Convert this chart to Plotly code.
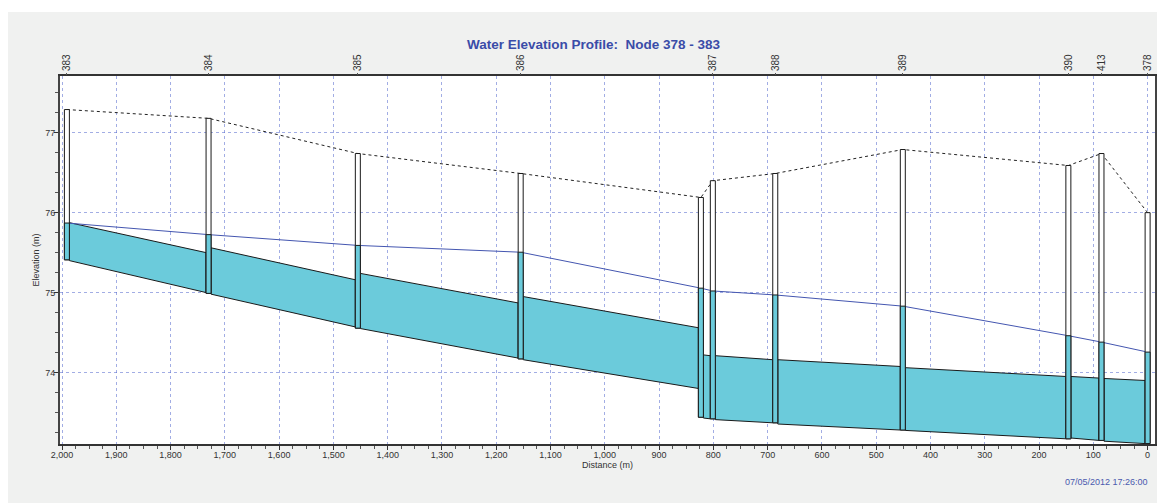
import plotly.graph_objects as go

# Nodes along the profile (upstream 383 -> downstream 378), distances in m
node_labels = ["383", "384", "385", "386", "", "387", "388", "389", "390", "413", "378"]
node_dist = [1991, 1730, 1455, 1155, 823, 801, 686, 451, 146, 85, 0]
node_invert = [75.41, 74.99, 74.555, 74.17, 73.44, 73.42, 73.37, 73.28, 73.17, 73.15, 73.11]
node_rim = [77.29, 77.18, 76.74, 76.49, 76.19, 76.40, 76.49, 76.79, 76.59, 76.74, 76.00]
node_water = [75.87, 75.725, 75.59, 75.505, 75.055, 75.02, 74.97, 74.83, 74.46, 74.38, 74.255]

# Links between consecutive nodes: invert and crown at upstream / downstream end
link_inv_up = [75.40, 74.98, 74.55, 74.16, 73.43, 73.41, 73.355, 73.275, 73.18, 73.14]
link_inv_dn = [75.00, 74.57, 74.18, 73.80, 73.42, 73.37, 73.28, 73.17, 73.15, 73.11]
link_top_up = [75.875, 75.56, 75.24, 74.95, 74.22, 74.21, 74.16, 74.06, 73.95, 73.925]
link_top_dn = [75.50, 75.16, 74.87, 74.56, 74.21, 74.16, 74.075, 73.95, 73.93, 73.90]

CYAN = "#6BCBDB"
HW = 4.6  # half width of node bars (m)
FONT = "Arial, Liberation Sans, sans-serif"
GRID = "rgba(85,105,205,0.55)"

fig = go.Figure()

# conduits
for i in range(len(link_inv_up)):
    xa = node_dist[i] - HW
    xb = node_dist[i + 1] + HW
    fig.add_trace(go.Scatter(
        x=[xa, xb, xb, xa, xa],
        y=[link_inv_up[i], link_inv_dn[i], link_top_dn[i], link_top_up[i], link_inv_up[i]],
        mode="lines", fill="toself", fillcolor=CYAN,
        line=dict(color="#1a1a1a", width=1),
        hoverinfo="skip", showlegend=False))

# hydraulic grade line
fig.add_trace(go.Scatter(x=node_dist, y=node_water, mode="lines",
                         line=dict(color="#4456B0", width=1),
                         hoverinfo="skip", showlegend=False))

# ground surface
fig.add_trace(go.Scatter(x=node_dist, y=node_rim, mode="lines",
                         line=dict(color="#222", width=1, dash="dot"),
                         hoverinfo="skip", showlegend=False))

# manholes
for d, inv, rim, wl in zip(node_dist, node_invert, node_rim, node_water):
    xs = [d - HW, d + HW, d + HW, d - HW, d - HW]
    fig.add_trace(go.Scatter(x=xs, y=[inv, inv, rim, rim, inv], mode="lines",
                             fill="toself", fillcolor="white",
                             line=dict(color="#1a1a1a", width=1),
                             hoverinfo="skip", showlegend=False))
    fig.add_trace(go.Scatter(x=xs, y=[inv, inv, wl, wl, inv], mode="lines",
                             fill="toself", fillcolor=CYAN,
                             line=dict(color="#1a1a1a", width=1),
                             hoverinfo="skip", showlegend=False))

top_vals = [d for d, lab in zip(node_dist, node_labels) if lab]
top_text = [lab for lab in node_labels if lab]
x_range = [2003.7, -13.6]

fig.update_layout(
    width=1157, height=495,
    margin=dict(l=52, r=8, t=68, b=59),
    paper_bgcolor="#F0F1F0",
    plot_bgcolor="white",
    font=dict(family=FONT, size=9, color="#333"),
    title=dict(text="<b>Water Elevation Profile:  Node 378 - 383</b>",
               x=0.506, xanchor="center", y=1 - 36 / 495, yanchor="middle",
               font=dict(family=FONT, size=13.5, color="#3A4CA8")),
    xaxis=dict(range=x_range, dtick=100, tick0=0, tickformat=",d",
               showgrid=True, gridcolor=GRID, griddash="dot", gridwidth=1,
               ticks="outside", ticklen=4, tickcolor="#333", ticklabelstandoff=-3,
               minor=dict(dtick=25, ticks="outside", ticklen=3, tickcolor="#555", showgrid=False),
               showline=True, linecolor="#333", linewidth=2, mirror=True,
               zeroline=False,
               title=dict(text="Distance (m)", standoff=2, font=dict(size=9, color="#333"))),
    xaxis2=dict(range=x_range, overlaying="x", side="top", anchor="y",
                tickmode="array", tickvals=top_vals, ticktext=top_text,
                tickangle=-90, ticks="outside", ticklen=2, tickcolor="#555",
                tickfont=dict(size=10, color="#333"),
                showgrid=False, zeroline=False),
    yaxis=dict(range=[73.105, 77.71], dtick=1, tick0=74,
               showgrid=True, gridcolor=GRID, griddash="dot", gridwidth=1,
               ticks="outside", ticklen=4, tickcolor="#333", ticklabelstandoff=-3,
               minor=dict(dtick=0.25, ticks="outside", ticklen=3, tickcolor="#555", showgrid=False),
               showline=True, linecolor="#444", linewidth=2, mirror=True,
               zeroline=False,
               title=dict(text="Elevation (m)", standoff=4, font=dict(size=9, color="#333"))),
    shapes=[
        dict(type="rect", xref="paper", yref="paper", x0=-0.1, x1=1.1, y0=(436.3 - 4) / 368.3, y1=1.3,
             fillcolor="white", line=dict(width=0), layer="below"),
    ],
    annotations=[
        dict(text="07/05/2012 17:26:00", xref="paper", yref="paper",
             x=(1144 - 52) / 1097, y=(436.3 - 474) / 368.3,
             xanchor="right", yanchor="middle", showarrow=False,
             font=dict(family=FONT, size=9, color="#4A5AAE")),
    ],
)

# attach an empty trace to the top axis so it renders
fig.add_trace(go.Scatter(x=[None], y=[None], xaxis="x2", showlegend=False, hoverinfo="skip"))

fig.write_html("out.html")
